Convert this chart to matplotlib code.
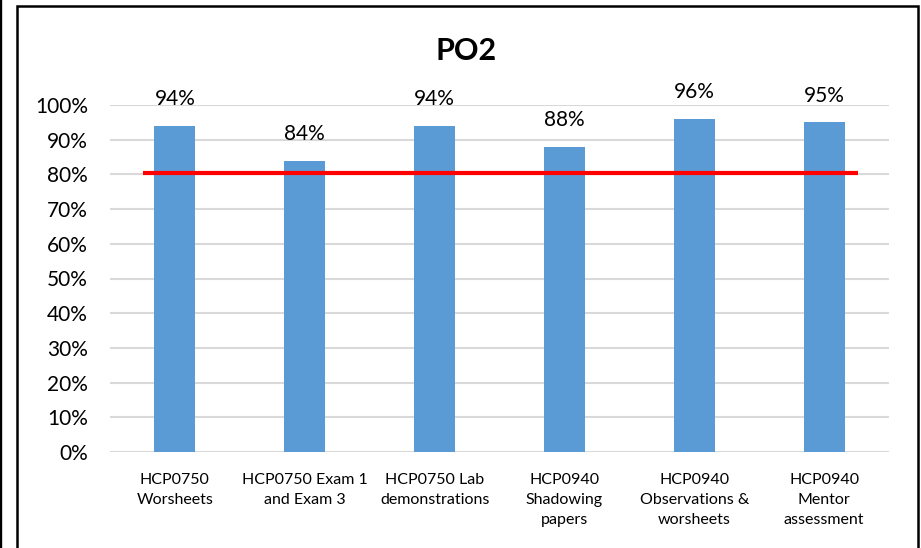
import matplotlib.pyplot as plt
import matplotlib.patches as patches
import numpy as np
from matplotlib.ticker import PercentFormatter

categories = [
    "HCP0750\nWorsheets",
    "HCP0750 Exam 1\nand Exam 3",
    "HCP0750 Lab\ndemonstrations",
    "HCP0940\nShadowing\npapers",
    "HCP0940\nObservations &\nworsheets",
    "HCP0940\nMentor\nassessment",
]
scores = [0.94, 0.84, 0.94, 0.88, 0.96, 0.95]
target = 0.805
yticks = [0, 0.1, 0.2, 0.3, 0.4, 0.5, 0.6, 0.7, 0.8, 0.9, 1.0]

plt.rcParams['font.family'] = ['Lato', 'DejaVu Sans']

W, H = 921, 548
fig = plt.figure(figsize=(W / 100, H / 100), dpi=100)

# outer frame lines (page border + chart border)
fig.add_artist(plt.Line2D([1.2 / W, 1.2 / W], [0, 1], color='black', lw=1.7))
frame = patches.Rectangle((17 / W, -0.1), (917.5 - 17) / W, 1.1 - 6 / H,
                          transform=fig.transFigure, fill=False,
                          edgecolor='black', lw=1.8)
fig.add_artist(frame)

ax = fig.add_axes([110 / W, 96 / H, (889 - 110) / W, (452 - 105) / H])
x = np.arange(len(categories))
bars = ax.bar(x, scores, width=0.316, color='#5b9bd5', zorder=2)

ax.set_xlim(-0.5, len(categories) - 0.5)
ax.set_ylim(0, 1.0)
ax.set_yticks(yticks)
ax.yaxis.set_major_formatter(PercentFormatter(1.0, decimals=0))
ax.grid(axis='y', color='#d9d9d9', lw=1.5, zorder=0)
for s in ax.spines.values():
    s.set_visible(False)
ax.tick_params(axis='y', length=0, labelsize=15, pad=16, colors='black')
ax.tick_params(axis='x', length=0, labelsize=11.5, pad=15)
ax.set_xticks(x)
ax.set_xticklabels(categories, linespacing=1.55)

# target line
ax.hlines(target, x[0] - 0.245, x[-1] + 0.26, color='#ff0000', lw=3, zorder=3)

# value labels
for xi, v in zip(x, scores):
    ax.annotate(f"{v:.0%}", (xi, v), xytext=(0, 19), textcoords='offset points',
                ha='center', va='center', fontsize=15, clip_on=False)

fig.text(466 / W, 1 - 51 / H, "PO2", ha='center', va='center',
         fontsize=22, fontweight='bold')

fig.savefig('out.png', dpi=100)
